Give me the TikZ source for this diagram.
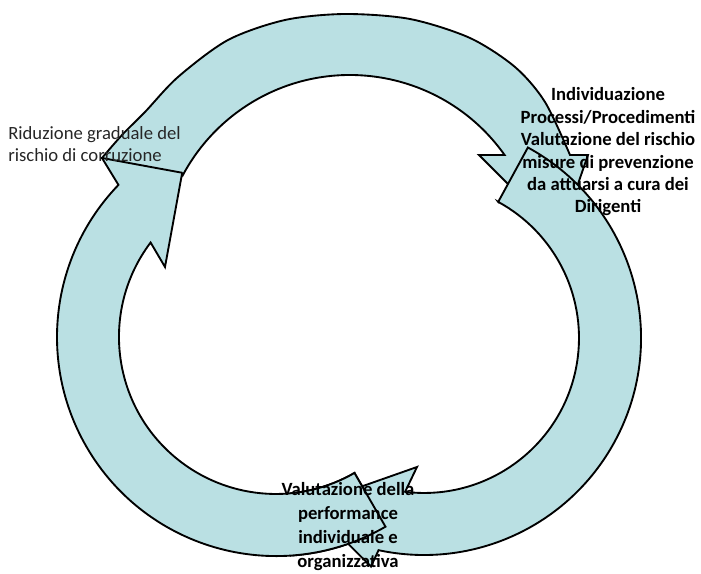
\documentclass[tikz,border=0pt]{standalone}
\usepackage{fontspec}
\setmainfont{Carlito}
\definecolor{cyclefill}{RGB}{186,224,227}

\begin{document}
\begin{tikzpicture}[x=0.75pt,y=0.75pt]
\tikzstyle{every node}+=[inner sep=0pt]
\tikzstyle{arrowbody}=[draw=black,line width=1.4pt,fill=cyclefill,line join=miter]
\tikzstyle{plaintext}=[font=\fontsize{14}{17}\selectfont,text=black!85,align=left]
\tikzstyle{boldtext}=[font=\fontsize{14}{16.8}\selectfont\bfseries,align=center]
\useasboundingbox (0,0) rectangle (701,-574);
% left arrow
\draw [arrowbody] (354.5,-473.0) -- (385.5,-526.7) arc (-60:-224:219) -- (102,-158) -- (188,-141) -- (165,-267) -- (150.6,-242.5) arc (143:300:157) -- cycle;
% top arrow
\draw [arrowbody] (181.8,-172.7) -- (102,-158) -- plot[smooth] coordinates {(102,-158) (122,-135) (145,-112) (178,-77) (228,-40) (285,-20) (345,-14) (410,-19) (470,-38) (515,-67) (545,-102) (570,-155)} -- (588,-155) -- (560,-236) -- (479,-155) -- (504.6,-155) arc (35.3:151.9:189.5) -- cycle;
% right arrow
\draw [arrowbody] (498.2,-201.9) -- (527.9,-147.5) arc (61.4:-102.1:217) -- (371,-566.5) -- (309,-505) -- (417,-467) -- (405.1,-491.8) arc (-97:61.4:155) -- cycle;
% tail of the left arrow lies over the head of the right arrow
\begin{scope}
\clip (290,-440) rectangle (470,-580);
\draw [arrowbody] (354.5,-473.0) -- (385.5,-526.7) arc (-60:-224:219) -- (102,-158) -- (188,-141) -- (165,-267) -- (150.6,-242.5) arc (143:300:157) -- cycle;
\end{scope}
% labels
\node (riduzione) [plaintext,anchor=west] at (8,-144) {Riduzione graduale del\\rischio di corruzione};
\node (individuazione) [boldtext] at (608,-152) {Individuazione\\Processi/Procedimenti\\Valutazione del rischio\\misure di prevenzione\\da attuarsi a cura dei\\Dirigenti};
\node (valutazione) [boldtext,font=\fontsize{14}{18}\selectfont\bfseries] at (348,-527) {Valutazione della\\performance\\individuale e\\organizzativa};
\end{tikzpicture}
\end{document}
